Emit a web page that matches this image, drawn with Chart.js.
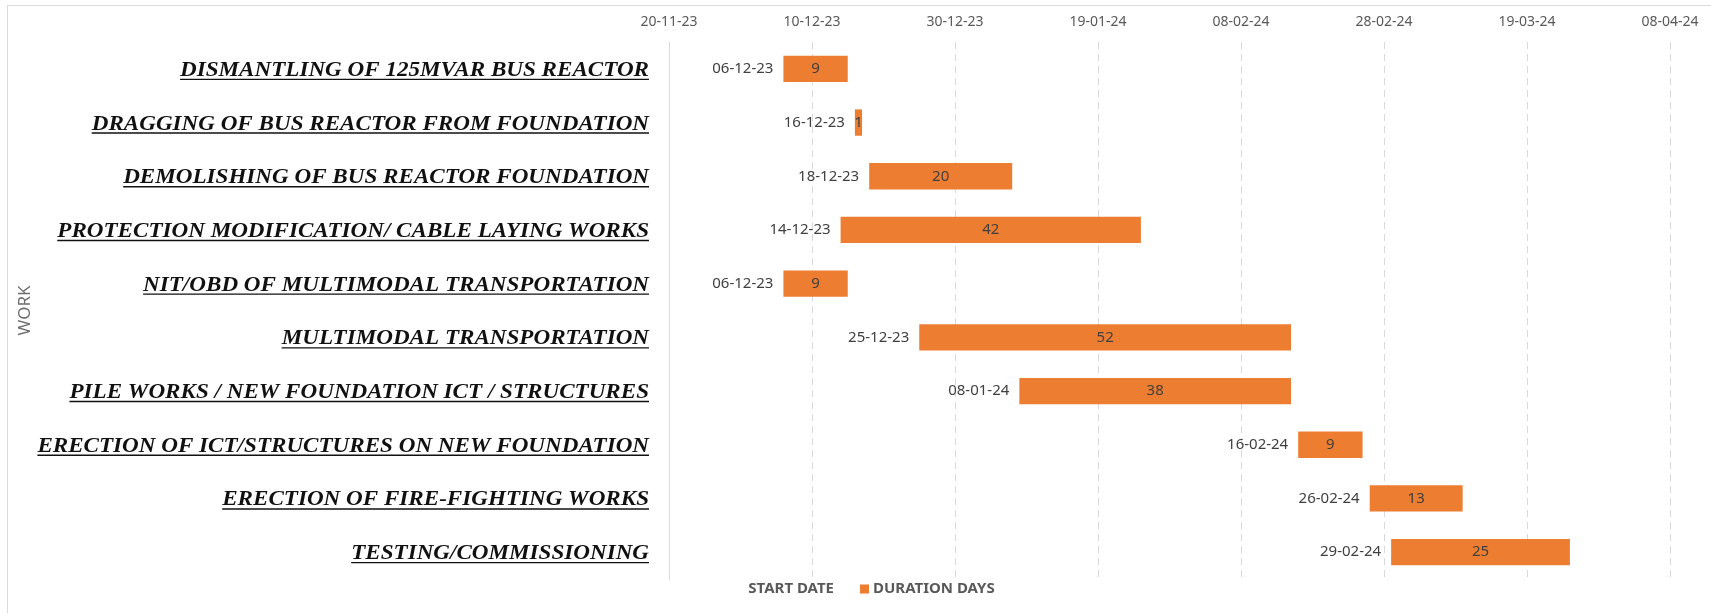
<!DOCTYPE html>
<html>
<head>
<meta charset="utf-8">
<script src="https://cdn.jsdelivr.net/npm/chart.js@4.4.1/dist/chart.umd.min.js"></script>
<style>
  html, body { margin: 0; padding: 0; background: #fff; }
  #frame { position: absolute; left: 7px; top: 5px; width: 1740px; height: 640px; border: 1px solid #d9d9d9; box-sizing: border-box; }
  #wrap { position: absolute; left: 0; top: 0; width: 1711px; height: 613px; }
</style>
</head>
<body>
<div id="frame"></div>
<div id="wrap"><canvas id="ganttCanvas"></canvas></div>
<script>
const tasks = [
  "DISMANTLING OF 125MVAR BUS REACTOR",
  "DRAGGING OF BUS REACTOR FROM FOUNDATION",
  "DEMOLISHING OF BUS REACTOR FOUNDATION",
  "PROTECTION MODIFICATION/ CABLE LAYING WORKS",
  "NIT/OBD OF MULTIMODAL TRANSPORTATION",
  "MULTIMODAL TRANSPORTATION",
  "PILE WORKS / NEW FOUNDATION ICT / STRUCTURES",
  "ERECTION OF ICT/STRUCTURES ON NEW FOUNDATION",
  "ERECTION OF FIRE-FIGHTING WORKS",
  "TESTING/COMMISSIONING",
];
const startDates = ["06-12-23", "16-12-23", "18-12-23", "14-12-23", "06-12-23", "25-12-23", "08-01-24", "16-02-24", "26-02-24", "29-02-24"];
const durationDays = [9, 1, 20, 42, 9, 52, 38, 9, 13, 25];
const xTickLabels = ["20-11-23", "10-12-23", "30-12-23", "19-01-24", "08-02-24", "28-02-24", "19-03-24", "08-04-24"];

const ORANGE = "#ED7D31";

// dd-mm-yy -> spreadsheet day serial
function toSerial(str) {
  const [d, m, y] = str.split("-").map(Number);
  return Date.UTC(2000 + y, m - 1, d) / 86400000 + 25569;
}

const startSerials = startDates.map(toSerial);
const xMin = toSerial(xTickLabels[0]);
const xMax = toSerial(xTickLabels[xTickLabels.length - 1]);

const LABEL_FONT = 'italic bold 22px "Liberation Serif"';
const LABEL_SX = 1.05;

const ganttLabels = {
  id: "ganttLabels",
  afterDatasetsDraw(chart) {
    const ctx = chart.ctx;
    const meta = chart.getDatasetMeta(1);
    ctx.save();
    ctx.font = '15px "Noto Sans"';
    ctx.fillStyle = "#404040";
    ctx.textBaseline = "middle";
    meta.data.forEach((bar, i) => {
      ctx.textAlign = "center";
      ctx.fillText(String(durationDays[i]), (bar.x + bar.base) / 2, bar.y);
      ctx.textAlign = "right";
      ctx.fillText(startDates[i], bar.base - 10, bar.y);
    });
    ctx.restore();
  },
  afterDraw(chart) {
    const ctx = chart.ctx, y = chart.scales.y;
    const right = y.right - 20;
    ctx.save();
    ctx.font = LABEL_FONT;
    ctx.fillStyle = "#111";
    ctx.strokeStyle = "#111";
    ctx.textAlign = "right";
    ctx.textBaseline = "alphabetic";
    ctx.lineWidth = 1.4;
    tasks.forEach((t, i) => {
      const cy = y.getPixelForTick(i);
      const w = ctx.measureText(t).width * LABEL_SX;
      ctx.save();
      ctx.translate(right, cy + 7);
      ctx.scale(LABEL_SX, 1);
      ctx.fillText(t, 0, 0);
      ctx.restore();
      ctx.beginPath();
      ctx.moveTo(right - w, cy + 10.5);
      ctx.lineTo(right, cy + 10.5);
      ctx.stroke();
    });

    // legend, laid out like the spreadsheet one (empty marker for the hidden series)
    const ly = 589;
    ctx.font = 'bold 15px "Noto Sans"';
    ctx.fillStyle = "#595959";
    ctx.textBaseline = "middle";
    ctx.textAlign = "right";
    ctx.fillText(chart.data.datasets[0].label, 834, ly);
    ctx.fillStyle = ORANGE;
    ctx.fillRect(860, ly - 4.5, 9, 9);
    ctx.fillStyle = "#595959";
    ctx.textAlign = "left";
    ctx.fillText(chart.data.datasets[1].label, 873, ly);
    ctx.restore();
  },
};

new Chart(document.getElementById("ganttCanvas"), {
  type: "bar",
  data: {
    labels: tasks,
    datasets: [
      {
        label: "START DATE",
        data: startSerials,
        backgroundColor: "rgba(0,0,0,0)",
        borderWidth: 0,
      },
      {
        label: "DURATION DAYS",
        data: durationDays,
        backgroundColor: ORANGE,
        borderWidth: 0,
      },
    ],
  },
  options: {
    indexAxis: "y",
    responsive: true,
    maintainAspectRatio: false,
    animation: false,
    barPercentage: 0.49,
    categoryPercentage: 1,
    layout: { padding: { left: 8, right: 41, top: 6, bottom: 34 } },
    plugins: {
      tooltip: { enabled: false },
      legend: { display: false },
    },
    scales: {
      x: {
        type: "linear",
        position: "top",
        stacked: true,
        min: xMin,
        max: xMax,
        afterBuildTicks: (scale) => {
          scale.ticks = xTickLabels.map(toSerial).map(v => ({ value: v }));
        },
        afterFit: (scale) => { scale.height = 42 - 6; },
        ticks: {
          color: "#595959",
          font: { family: "Noto Sans", size: 14 },
          padding: 12,
          callback: (v, i) => xTickLabels[i],
        },
        grid: { color: "#d9d9d9", lineWidth: 1, drawTicks: false, tickLength: 0 },
        border: { display: false, dash: [7, 5] },
      },
      y: {
        stacked: true,
        afterFit: (scale) => { scale.width = 669 - 8; },
        ticks: { color: "rgba(0,0,0,0)", font: { size: 14 } },
        grid: { display: false },
        border: { display: true, color: "#d9d9d9", width: 1 },
        title: {
          display: true,
          text: "WORK",
          color: "#6f6f6f",
          font: { family: "Noto Sans", size: 17 },
          padding: { top: 7, bottom: 0 },
        },
      },
    },
  },
  plugins: [ganttLabels],
});
</script>
</body>
</html>
